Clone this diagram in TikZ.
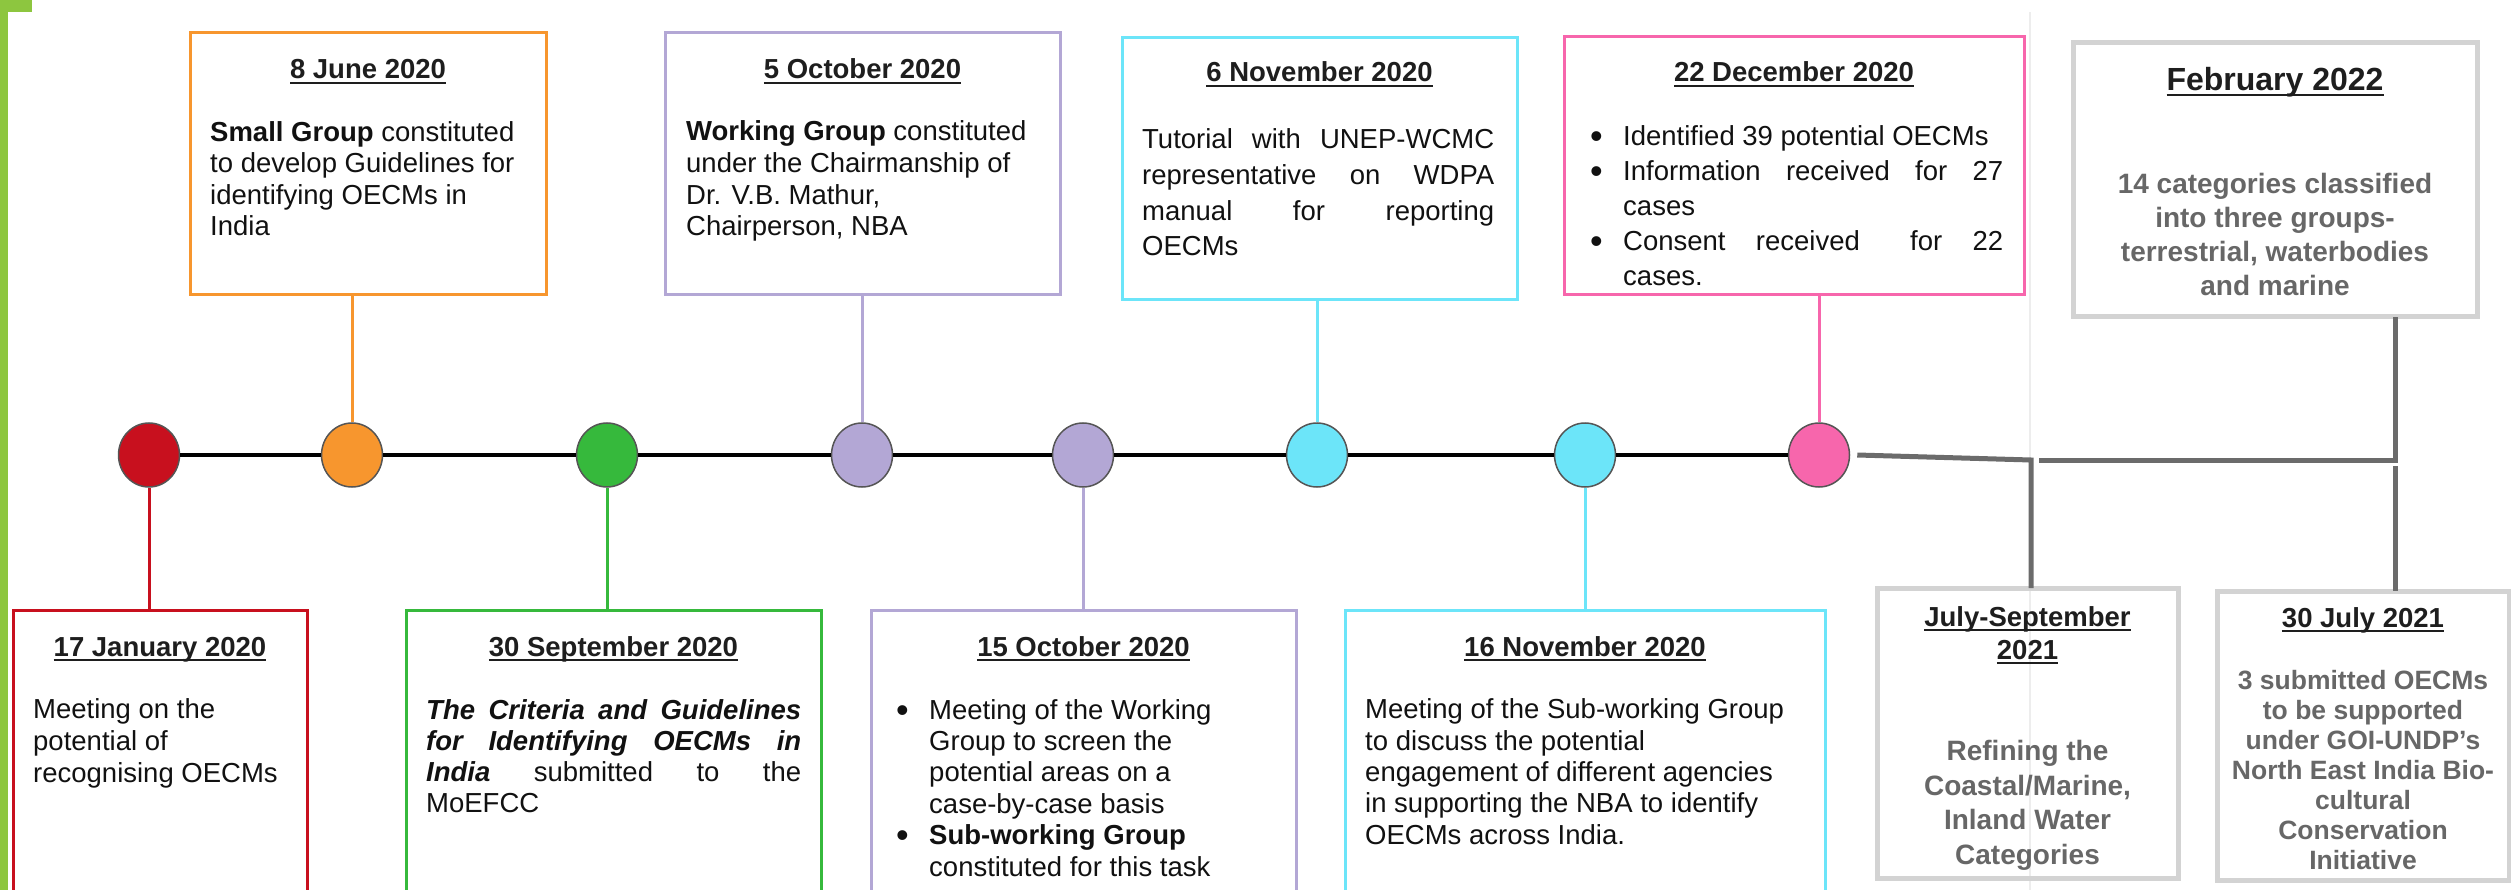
\documentclass[tikz,border=0pt]{standalone}
\usepackage{fontspec}
\setmainfont{Liberation Sans}
\usetikzlibrary{shapes.geometric}
\definecolor{cRed}{HTML}{C8101E}
\definecolor{cOrange}{HTML}{F7962E}
\definecolor{cGreen}{HTML}{36B93C}
\definecolor{cPurple}{HTML}{B3A7D5}
\definecolor{cCyan}{HTML}{6CE5F9}
\definecolor{cPink}{HTML}{F766AC}
\definecolor{cGreyBox}{HTML}{D3D3D3}
\definecolor{cGreyLine}{HTML}{6B6B6B}
\definecolor{cGreyText}{HTML}{676767}
\definecolor{cBar}{HTML}{8DC63F}
\definecolor{cDiv}{HTML}{EDEDED}
\definecolor{cTitle}{HTML}{1E1E1E}
\definecolor{cText}{HTML}{111111}
\definecolor{cDotLine}{HTML}{555555}
\newcommand\fsz[2]{\fontsize{#1}{#2}\selectfont}
\newcommand\bul{\makebox[33pt][l]{\raisebox{-3pt}{\fontsize{36}{36}\selectfont\textbullet}}}
\newcommand\ind{\hspace*{33pt}}
\newcommand\myul[1]{\leavevmode\setbox0=\hbox{#1}\rlap{\vrule height -3pt depth 5pt width \wd0}\box0}
\begin{document}
\begin{tikzpicture}[x=1pt,y=-1pt,
  tbox/.style={draw, line width=3pt, inner sep=0pt, outer sep=0pt, anchor=north west},
  gbox/.style={draw=cGreyBox, line width=5pt, inner sep=0pt, outer sep=0pt, anchor=north west},
  dot/.style={ellipse, draw=cDotLine, line width=1.5pt, minimum width=61pt, minimum height=64pt, inner sep=0pt},
  ttl/.style={anchor=base, inner sep=0pt, font=\fsz{27.5}{33}\bfseries, text=cTitle, align=center},
  bodytxt/.style={anchor=base west, inner sep=0pt, align=left, text=cText},
  greytxt/.style={anchor=base, inner sep=0pt, align=center, text=cGreyText},
  link/.style={line width=3pt},
  gline/.style={line width=5pt, draw=cGreyLine}]
\useasboundingbox (0,0) rectangle (2511,890);
\clip (0,0) rectangle (2511,890);
% background decorations
\fill[cBar] (0,0) rectangle (8,890);
\fill[cBar] (0,0) rectangle (32,12);
\draw[cDiv, line width=1.5pt] (2030,12) -- (2030,890);
% boxes
\node[tbox, draw=cRed, minimum width=294pt, minimum height=285pt] (b1) at (13,610) {};
\node[tbox, draw=cOrange, minimum width=356pt, minimum height=262pt] (b2) at (190,33) {};
\node[tbox, draw=cGreen, minimum width=415pt, minimum height=285pt] (b3) at (406,610) {};
\node[tbox, draw=cPurple, minimum width=395pt, minimum height=262pt] (b4) at (665,33) {};
\node[tbox, draw=cPurple, minimum width=425pt, minimum height=285pt] (b5) at (871,610) {};
\node[tbox, draw=cCyan, minimum width=395pt, minimum height=262pt] (b6) at (1122,38) {};
\node[tbox, draw=cCyan, minimum width=480pt, minimum height=285pt] (b7) at (1345,610) {};
\node[tbox, draw=cPink, minimum width=460pt, minimum height=258pt] (b8) at (1564,37) {};
\node[gbox, minimum width=404pt, minimum height=274pt] (b9) at (2073,43) {};
\node[gbox, minimum width=301pt, minimum height=290pt] (b10) at (1877,588) {};
\node[gbox, minimum width=292pt, minimum height=289pt] (b11) at (2217,591) {};
% circles
\node[dot, fill=cRed] (c1) at (149,455) {};
\node[dot, fill=cOrange] (c2) at (352,455) {};
\node[dot, fill=cGreen] (c3) at (607,455) {};
\node[dot, fill=cPurple] (c4) at (862,455) {};
\node[dot, fill=cPurple] (c5) at (1083,455) {};
\node[dot, fill=cCyan] (c6) at (1317,455) {};
\node[dot, fill=cCyan] (c7) at (1585,455) {};
\node[dot, fill=cPink] (c8) at (1819,455) {};
% timeline
\foreach \a/\b in {c1/c2,c2/c3,c3/c4,c4/c5,c5/c6,c6/c7,c7/c8}
  \draw[line width=3.5pt] (\a.east) -- (\b.west);
% connectors
\draw[link, cRed] (c1.south) -- (c1.south |- b1.north);
\draw[link, cOrange] (c2.north) -- (c2.north |- b2.south);
\draw[link, cGreen] (c3.south) -- (c3.south |- b3.north);
\draw[link, cPurple] (c4.north) -- (c4.north |- b4.south);
\draw[link, cPurple] (c5.south) -- (c5.south |- b5.north);
\draw[link, cCyan] (c6.north) -- (c6.north |- b6.south);
\draw[link, cCyan] (c7.south) -- (c7.south |- b7.north);
\draw[link, cPink] (c8.north) -- (c8.north |- b8.south);
\coordinate (j1) at (2031,460);
\coordinate (j2) at (2039,460);
\coordinate (j3) at (2395,460);
\coordinate (j4) at (2395,466);
\draw[gline] ([xshift=7pt]c8.east) -- (j1) -- (j1 |- b10.north);
\draw[gline] (j2) -- (j3) -- (j3 |- b9.south);
\draw[gline] (j4) -- (j4 |- b11.north);
% titles
\node[ttl] (t1) at (160,656) {\myul{17 January 2020}};
\node[ttl] (t2) at (368,79) {\myul{8 June 2020}};
\node[ttl] (t3) at (613.5,656) {\myul{30 September 2020}};
\node[ttl] (t4) at (862.5,79) {\myul{5 October 2020}};
\node[ttl] (t5) at (1083.5,656) {\myul{15 October 2020}};
\node[ttl] (t6) at (1319.5,82) {\myul{6 November 2020}};
\node[ttl] (t7) at (1585,656) {\myul{16 November 2020}};
\node[ttl] (t8) at (1794,82) {\myul{22 December 2020}};
\node[ttl, font=\fsz{32}{36}\bfseries] (t9) at (2275,91) {\myul{February 2022}};
\node[ttl] (t10) at (2027.5,659) {\myul{July-September}\\\myul{2021}};
\node[ttl] (t11) at (2363,627) {\myul{30 July 2021}};
% bodies (anchored at the baseline of their last line)
\node[bodytxt, font=\fsz{27.5}{31.6}] (x1) at (33,782) {Meeting on the\\potential of\\recognising OECMs};
\node[bodytxt, font=\fsz{27.5}{31.6}] (x2) at (210,236) {\textbf{Small Group} constituted\\to develop Guidelines for\\identifying OECMs in\\India};
\node[bodytxt, font=\fsz{27.5}{31}] (x3) at (426,812) {\makebox[375pt][s]{\bfseries\itshape The Criteria and Guidelines}\\\makebox[375pt][s]{\bfseries\itshape for Identifying OECMs in}\\\makebox[375pt][s]{\textbf{\textit{India}} submitted to the}\\MoEFCC};
\node[bodytxt, font=\fsz{27.5}{31.7}] (x4) at (686,236) {\textbf{Working Group} constituted\\under the Chairmanship of\\Dr. V.B. Mathur,\\Chairperson, NBA};
\node[bodytxt, font=\fsz{27.5}{31.4}] (x5) at (896,876) {\bul Meeting of the Working\\\ind Group to screen the\\\ind potential areas on a\\\ind case-by-case basis\\\bul\textbf{Sub-working Group}\\\ind constituted for this task};
\node[bodytxt, font=\fsz{27.5}{35.7}] (x6) at (1142,256) {\makebox[352pt][s]{Tutorial with UNEP-WCMC}\\\makebox[352pt][s]{representative on WDPA}\\\makebox[352pt][s]{manual for reporting}\\OECMs};
\node[bodytxt, font=\fsz{27.5}{31.3}] (x7) at (1365,844) {Meeting of the Sub-working Group\\to discuss the potential\\engagement of different agencies\\in supporting the NBA to identify\\OECMs across India.};
\node[bodytxt, font=\fsz{27.5}{35}] (x8) at (1590,286) {\bul Identified 39 potential OECMs\\\bul\makebox[380pt][s]{Information received for 27}\\\ind cases\\\bul\makebox[380pt][s]{Consent received\hspace{20pt} for 22}\\\ind cases.};
\node[greytxt, font=\fsz{28}{34}\bfseries] (x9) at (2275,296) {14 categories classified\\into three groups-\\terrestrial, waterbodies\\and marine};
\node[greytxt, font=\fsz{28}{34.5}\bfseries] (x10) at (2027.5,864) {Refining the\\Coastal/Marine,\\Inland Water\\Categories};
\node[greytxt, font=\fsz{26.5}{30}\bfseries] (x11) at (2363,869) {3 submitted OECMs\\to be supported\\under GOI-UNDP’s\\North East India Bio-\\cultural\\Conservation\\Initiative};
\end{tikzpicture}
\end{document}
